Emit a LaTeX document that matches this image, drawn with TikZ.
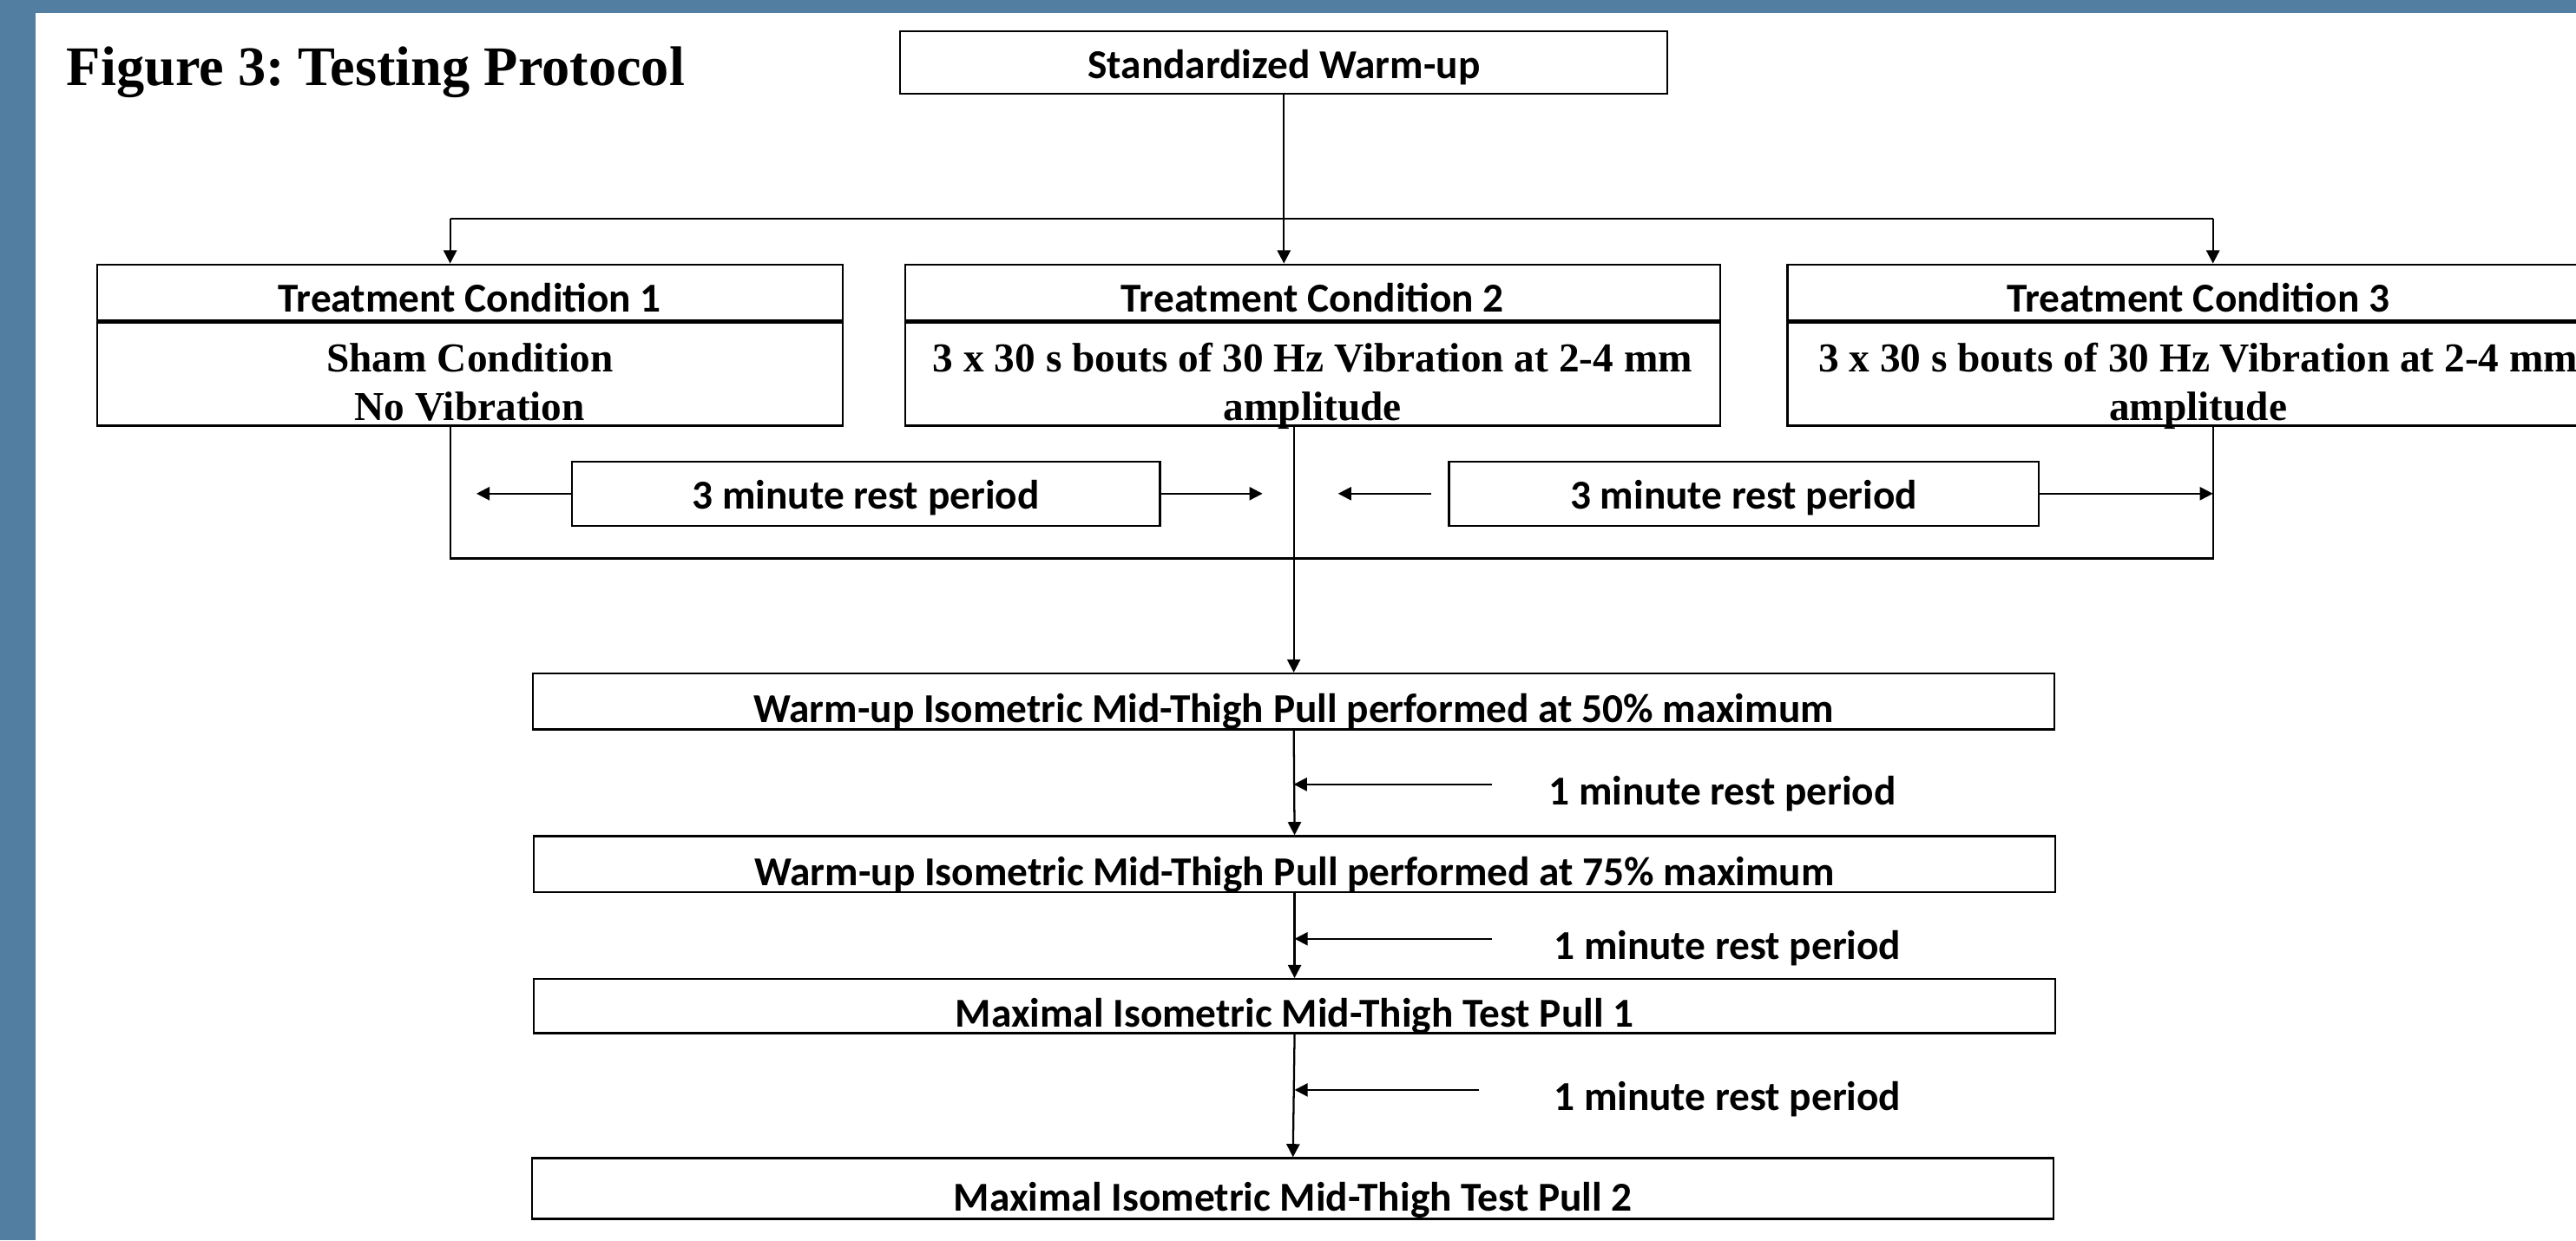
\documentclass[tikz,border=0pt]{standalone}
\usepackage{fontspec}
\setmainfont{Liberation Serif}
\newfontfamily\calibri{Carlito}
\usepackage{tikz}
\usetikzlibrary{arrows.meta,positioning}
\definecolor{frameblue}{RGB}{82,126,162}
\frenchspacing

\begin{document}
\begin{tikzpicture}[x=0.5pt, y=-0.5pt, line width=0.6pt, >={Triangle[length=4pt,width=4pt]}]
        \tikzset{box/.style={rectangle, draw, inner sep=0pt, align=center, font=\calibri\bfseries\fontsize{12.5}{15}\selectfont}}
        \tikzset{head/.style={box, text height=14.5pt, text depth=2.5pt}}
        \tikzset{body/.style={box, text height=30pt, text depth=1.5pt, font=\bfseries\fontsize{12.5}{15}\selectfont}}
        \tikzset{restbox/.style={box, minimum width=179pt, text height=14.5pt, text depth=5pt}}
        \tikzset{pullbox/.style={box, minimum width=463pt, text height=15pt, text depth=2pt}}
        \tikzset{restnote/.style={inner sep=0pt, anchor=base, text height=12.5pt, text depth=0pt, font=\calibri\bfseries\fontsize{12.5}{15}\selectfont}}

        % Frame
        \useasboundingbox (0,0) rectangle (1568,755);
        \clip (0,0) rectangle (1568,755);
        \fill[frameblue] (0,0) rectangle (1568,755);
        \fill[white] (21.5,8) rectangle (1568,755);

        \node [anchor=base west, inner sep=0pt, font=\bfseries\fontsize{17}{20}\selectfont] (title) at (40,52) {Figure 3: Testing Protocol};

        % Warm-up and treatment conditions
        \node [box, minimum width=233.5pt, text height=14.5pt, text depth=4.5pt] (warm) at (781.5,38) {Standardized Warm-up};
        \node [head, minimum width=227pt] (tc1) at (286,178) {Treatment Condition 1};
        \node [head, minimum width=248pt] (tc2) at (799,178) {Treatment Condition 2};
        \node [head, minimum width=250pt] (tc3) at (1338,178) {Treatment Condition 3};
        \node [body, minimum width=227pt, below=0pt of tc1] (tc1b) {Sham Condition\\No Vibration};
        \node [body, minimum width=248pt, below=0pt of tc2] (tc2b) {3 x 30 s bouts of 30 Hz Vibration at 2-4 mm\\amplitude};
        \node [body, minimum width=250pt, below=0pt of tc3] (tc3b) {3 x 30 s bouts of 30 Hz Vibration at 2-4 mm\\amplitude};

        % Rest between conditions
        \node [restbox] (rest1) at (527,300.5) {3 minute rest period};
        \node [restbox, minimum width=179.5pt] (rest2) at (1061.5,300.5) {3 minute rest period};

        % Pulls
        \node [pullbox] (pull50) at (787.5,427) {Warm-up Isometric Mid-Thigh Pull performed at 50\% maximum};
        \node [pullbox] (pull75) at (788,526) {Warm-up Isometric Mid-Thigh Pull performed at 75\% maximum};
        \node [pullbox, text height=14.5pt] (test1) at (788,612.5) {Maximal Isometric Mid-Thigh Test Pull 1};
        \node [pullbox, text height=16pt, text depth=2.5pt] (test2) at (787,723.5) {Maximal Isometric Mid-Thigh Test Pull 2};
        \node [restnote] (note1) at (1048.5,490) {1 minute rest period};
        \node [restnote] (note2) at (1051.5,584) {1 minute rest period};
        \node [restnote] (note3) at (1051.5,676) {1 minute rest period};

        % Split
        \coordinate (split) at (781.5,133);
        \coordinate (left) at (274,133);
        \coordinate (right) at (1347,133);
        \coordinate (leftbot) at (274,340);
        \coordinate (rightbot) at (1347,340);
        \draw (warm.south) -- (split);
        \draw (left) -- (right);
        \draw [->] (left) -- (left |- tc1.north);
        \draw [->] (split) -- (split |- tc2.north);
        \draw [->] (right) -- (right |- tc3.north);

        % Bracket and rest arrows
        \draw (left |- tc1b.south) -- (leftbot) -- (rightbot) -- (right |- tc3b.south);
        \draw [->] (pull50.north |- tc2b.south) -- (pull50.north);
        \draw [->, shorten >=8pt] (rest1.west) -- (rest1.west -| left);
        \draw [->, shorten >=9.5pt] (rest1.east) -- (rest1.east -| pull50.north);
        \draw [->, shorten <=5pt, shorten >=13.5pt] (rest2.west) -- (rest2.west -| pull50.north);
        \draw [->] (rest2.east) -- (rest2.east -| right);

        % Pull sequence
        \draw [->] (pull50.south) -- (pull75.north);
        \draw [->] (pull75.south) -- (test1.north);
        \draw [->] (test1.south) -- (test2.north);
        \draw [->, shorten <=17pt] (note1.west) -- (note1.west -| pull50.south);
        \draw [->, shorten <=18.5pt] (note2.west) -- (note2.west -| pull75.south);
        \draw [->, shorten <=22.5pt] (note3.west) -- (note3.west -| test1.south);
\end{tikzpicture}
\end{document}
